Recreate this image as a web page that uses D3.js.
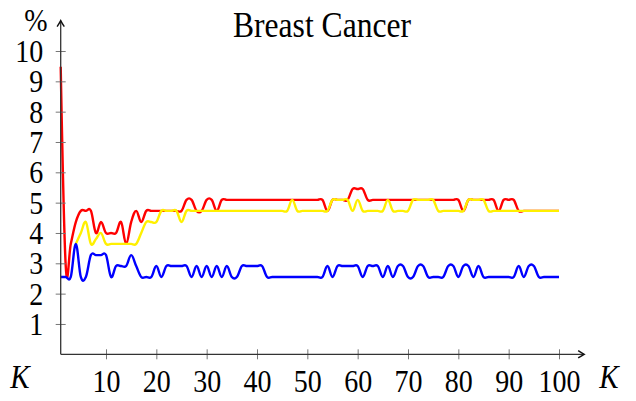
<!DOCTYPE html>
<html>
<head>
<meta charset="utf-8">
<script src="https://cdn.jsdelivr.net/npm/d3@7"></script>
<style>
  html, body { margin: 0; padding: 0; background: #fff; }
  svg { display: block; }
</style>
</head>
<body>
<div id="chart"></div>
<script>
// error rate (%) for K = 1..100
var ks = d3.range(1, 101);

var redValues = [
	9.48, 2.91, 3.64, 4.36, 4.73, 4.73, 4.73, 4.0, 4.36, 4.0,
	4.0, 4.0, 4.36, 3.64, 4.36, 4.73, 4.36, 4.73, 4.73, 4.73,
	4.73, 4.73, 4.73, 4.73, 4.73, 5.09, 5.09, 4.73, 4.73, 5.09,
	5.09, 4.73, 5.09, 5.09, 5.09, 5.09, 5.09, 5.09, 5.09, 5.09,
	5.09, 5.09, 5.09, 5.09, 5.09, 5.09, 5.09, 5.09, 5.09, 5.09,
	5.09, 5.09, 5.09, 4.73, 5.09, 5.09, 5.09, 5.09, 5.45, 5.45,
	5.45, 5.09, 5.09, 5.09, 5.09, 5.09, 5.09, 5.09, 5.09, 5.09,
	5.09, 5.09, 5.09, 5.09, 5.09, 5.09, 5.09, 5.09, 5.09, 5.09,
	4.73, 5.09, 5.09, 5.09, 5.09, 5.09, 5.09, 4.73, 5.09, 5.09,
	5.09, 4.73, 4.73, 4.73, 4.73, 4.73, 4.73, 4.73, 4.73, 4.73
];

var yellowValues = [
	null, null, null, 3.64, 4.0, 4.36, 3.64, 3.8, 4.0, 3.64,
	3.64, 3.64, 3.64, 3.64, 3.64, 3.64, 4.0, 4.36, 4.36, 4.36,
	4.73, 4.73, 4.73, 4.73, 4.36, 4.73, 4.73, 4.73, 4.73, 4.73,
	4.73, 4.73, 4.73, 4.73, 4.73, 4.73, 4.73, 4.73, 4.73, 4.73,
	4.73, 4.73, 4.73, 4.73, 4.73, 4.73, 5.09, 4.73, 4.73, 4.73,
	4.73, 4.73, 4.73, 4.73, 5.09, 5.09, 5.09, 5.09, 4.73, 5.09,
	4.73, 4.73, 4.73, 4.73, 4.73, 5.09, 4.73, 4.73, 4.73, 4.73,
	5.09, 5.09, 5.09, 5.09, 5.09, 4.73, 4.73, 4.73, 4.73, 4.73,
	4.73, 5.09, 5.09, 5.09, 5.09, 4.73, 4.73, 4.73, 4.73, 4.73,
	4.73, 4.73, 4.73, 4.73, 4.73, 4.73, 4.73, 4.73, 4.73, 4.73
];

var blueValues = [
	2.55, 2.55, 2.55, 3.64, 2.55, 2.55, 3.27, 3.27, 3.27, 3.27,
	2.55, 2.91, 2.91, 2.91, 3.27, 2.91, 2.55, 2.55, 2.55, 2.91,
	2.55, 2.91, 2.91, 2.91, 2.91, 2.91, 2.55, 2.91, 2.55, 2.91,
	2.55, 2.91, 2.55, 2.91, 2.55, 2.55, 2.91, 2.91, 2.91, 2.91,
	2.91, 2.55, 2.55, 2.55, 2.55, 2.55, 2.55, 2.55, 2.55, 2.55,
	2.55, 2.55, 2.55, 2.91, 2.55, 2.91, 2.91, 2.91, 2.91, 2.91,
	2.55, 2.91, 2.91, 2.91, 2.55, 2.91, 2.55, 2.91, 2.91, 2.55,
	2.55, 2.91, 2.91, 2.55, 2.55, 2.55, 2.55, 2.91, 2.91, 2.55,
	2.91, 2.91, 2.55, 2.91, 2.55, 2.55, 2.55, 2.55, 2.55, 2.55,
	2.55, 2.91, 2.55, 2.91, 2.91, 2.55, 2.55, 2.55, 2.55, 2.55
];

var xTicks = [10, 20, 30, 40, 50, 60, 70, 80, 90, 100];
var yTicks = [1, 2, 3, 4, 5, 6, 7, 8, 9, 10];
var title = "Breast Cancer";

var width = 636, height = 401;
var serif = "'Liberation Serif', 'DejaVu Serif', serif";
var stretch = 1.13;

var svg = d3.select("#chart").append("svg")
	.attr("width", width)
	.attr("height", height);

var x = d3.scaleLinear().domain([1, 100]).range([60.7, 559]);
var y = d3.scaleLinear().domain([0, 10]).range([354.3, 51]);

var series = [
	{ name: "red", color: "#ff0000", values: redValues },
	{ name: "yellow", color: "#fff000", values: yellowValues },
	{ name: "blue", color: "#0000ff", values: blueValues }
];

var line = d3.line()
	.defined(function(d) { return d.v !== null; })
	.x(function(d) { return x(d.k); })
	.y(function(d) { return y(d.v); })
	.curve(d3.curveCardinal.tension(-0.1));

svg.selectAll(".series")
	.data(series).enter()
	.append("path")
		.attr("class", "series")
		.attr("fill", "none")
		.attr("stroke", function(s) { return s.color; })
		.attr("stroke-width", 2.4)
		.attr("stroke-linejoin", "round")
		.attr("d", function(s) {
			return line(ks.map(function(k, i) { return { k: k, v: s.values[i] }; }));
		});

// axes
var xAxis = d3.axisBottom(x).tickValues(xTicks).tickSize(5).tickFormat(d3.format("d"));
var gx = svg.append("g")
	.attr("transform", "translate(0," + y(0) + ")")
	.attr("font-family", serif)
	.call(xAxis);
gx.select(".domain").remove();
gx.selectAll(".tick line").attr("y1", -5).attr("y2", 5).attr("stroke", "#777").attr("stroke-width", 1);
gx.selectAll(".tick text")
	.attr("y", null).attr("dy", null)
	.attr("transform", "translate(0,38) scale(1," + stretch + ")")
	.attr("fill", "#000")
	.style("font-family", serif)
	.style("font-size", "28px");

var yAxis = d3.axisLeft(y).tickValues(yTicks).tickSize(5).tickFormat(d3.format("d"));
var gy = svg.append("g")
	.attr("transform", "translate(" + x(1) + ",0)")
	.attr("font-family", serif)
	.call(yAxis);
gy.select(".domain").remove();
gy.selectAll(".tick line").attr("x1", -5).attr("x2", 5).attr("stroke", "#777").attr("stroke-width", 1);
gy.selectAll(".tick text")
	.attr("x", null).attr("dy", null)
	.attr("transform", "translate(-17.5,10.5) scale(1," + stretch + ")")
	.attr("fill", "#000")
	.style("font-family", serif)
	.style("font-size", "28px");

// axis lines with arrow heads
var x0 = x(1), y0 = y(0), xEnd = x(105), yEnd = y(11);
svg.append("line")
	.attr("x1", x0).attr("y1", y0).attr("x2", xEnd).attr("y2", y0)
	.attr("stroke", "#333").attr("stroke-width", 1.3);
svg.append("line")
	.attr("x1", x0).attr("y1", y0).attr("x2", x0).attr("y2", yEnd)
	.attr("stroke", "#333").attr("stroke-width", 1.3);
var arrow = "M-6,-3.6 Q-2,-1 0,0 Q-2,1 -6,3.6";
svg.append("path")
	.attr("d", arrow)
	.attr("transform", "translate(" + xEnd + "," + y0 + ")")
	.attr("fill", "none").attr("stroke", "#111").attr("stroke-width", 1.4);
svg.append("path")
	.attr("d", arrow)
	.attr("transform", "translate(" + x0 + "," + yEnd + ") rotate(-90)")
	.attr("fill", "none").attr("stroke", "#111").attr("stroke-width", 1.4);

// labels
function label(text, px, py, size, opts) {
	opts = opts || {};
	var t = svg.append("text")
		.attr("transform", "translate(" + px + "," + py + ") scale(1," + (opts.stretch || stretch) + ")")
		.attr("text-anchor", opts.anchor || "middle")
		.attr("fill", "#000")
		.style("font-family", serif)
		.style("font-size", size + "px")
		.style("font-style", opts.italic ? "italic" : "normal")
		.text(text);
	if(opts.textLength) {
		t.attr("textLength", opts.textLength).attr("lengthAdjust", "spacingAndGlyphs");
	}
	return t;
}

label(title, 322, 37, 29, { stretch: 1.2, textLength: 178 });
label("%", 36, 31, 28);
label("K", 20, 388, 29, { italic: true });
label("K", 609, 388, 29, { italic: true });
</script>
</body>
</html>
